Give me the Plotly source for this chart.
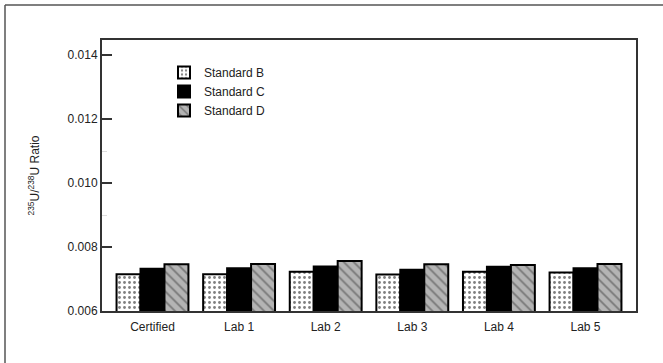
import plotly.graph_objects as go

categories = ["Certified", "Lab 1", "Lab 2", "Lab 3", "Lab 4", "Lab 5"]
standard_b = [0.00715, 0.00715, 0.00723, 0.00714, 0.00723, 0.00720]
standard_c = [0.00732, 0.00734, 0.00739, 0.00729, 0.00738, 0.00734]
standard_d = [0.00746, 0.00747, 0.00756, 0.00746, 0.00744, 0.00747]
y_ticks = [0.006, 0.008, 0.010, 0.012, 0.014]

W, H = 663, 363
L, R, T, B = 102, 27, 40, 52
pw, ph = W - L - R, H - T - B

def px_x(x):
    return (x - L) / pw

def px_y(y):
    return (H - B - y) / ph

fig = go.Figure()
fig.add_bar(
    x=categories, y=standard_b, name="Standard B",
    marker=dict(color="white", line=dict(color="black", width=2),
                pattern=dict(shape=".", fgcolor="black", bgcolor="white",
                             size=5, solidity=0.25)),
)
fig.add_bar(
    x=categories, y=standard_c, name="Standard C",
    marker=dict(color="black", line=dict(color="black", width=2)),
)
fig.add_bar(
    x=categories, y=standard_d, name="Standard D",
    marker=dict(color="#b4b4b4", line=dict(color="black", width=2),
                pattern=dict(shape="\\", fgcolor="#3a3a3a", bgcolor="#b4b4b4",
                             size=7, solidity=0.25)),
)

font = "Liberation Sans, Arial, Helvetica, sans-serif"

fig.update_layout(
    width=W, height=H,
    margin=dict(l=L, r=R, t=T, b=B, pad=0),
    paper_bgcolor="white", plot_bgcolor="white",
    barmode="group", bargap=0.17, bargroupgap=0,
    font=dict(family=font, size=12, color="#222"),
    showlegend=True,
    legend=dict(x=px_x(164), y=px_y(58), xanchor="left", yanchor="top",
                bgcolor="rgba(0,0,0,0)", font=dict(size=12, color="#222"),
                tracegroupgap=0, itemsizing="constant"),
    xaxis=dict(
        range=[-0.583, 5.583], showgrid=False, zeroline=False,
        showline=True, linecolor="#333", linewidth=2, mirror=True,
        ticks="", tickfont=dict(size=12, color="#222"), ticklabelstandoff=4,
    ),
    yaxis=dict(
        range=[0.006, 0.01447], showgrid=False, zeroline=False,
        showline=True, linecolor="#333", linewidth=2, mirror=True,
        tickvals=y_ticks, tickformat=".3f",
        ticks="inside", ticklen=10, tickwidth=1.5, tickcolor="#333",
        tickfont=dict(size=12, color="#222"),
        minor=dict(tickvals=[0.009, 0.011], ticks="inside", ticklen=5,
                   tickcolor="#dddddd", tickwidth=1),
        title=dict(text="<sup>235</sup>U/<sup>238</sup>U Ratio",
                   font=dict(size=12, color="#222"), standoff=25),
    ),
    shapes=[
        dict(type="line", xref="paper", yref="paper",
             x0=px_x(5), x1=px_x(680), y0=px_y(5), y1=px_y(5),
             line=dict(color="#555", width=1.5)),
        dict(type="line", xref="paper", yref="paper",
             x0=px_x(5), x1=px_x(5), y0=px_y(5), y1=px_y(380),
             line=dict(color="#555", width=1.5)),
    ],
)

fig.write_html("out.html", config={"displayModeBar": False},
               post_script="document.body.style.margin='0';")
